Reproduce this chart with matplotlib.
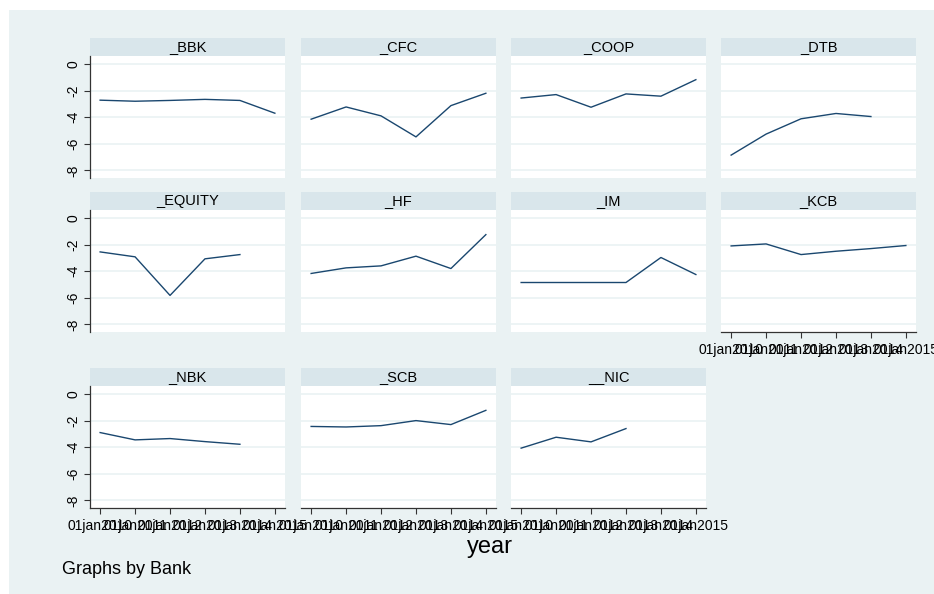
import numpy as np
import matplotlib
matplotlib.use('Agg')
import matplotlib.pyplot as plt
from matplotlib.patches import Rectangle

plt.rcParams['font.family'] = ['Liberation Sans', 'DejaVu Sans']

# Datos (nan = sin dato)
years = [2010, 2011, 2012, 2013, 2014, 2015]
nan = np.nan
banks = ['_BBK', '_CFC', '_COOP', '_DTB',
         '_EQUITY', '_HF', '_IM', '_KCB',
         '_NBK', '_SCB', '__NIC']
bbk = [-2.72, -2.80, -2.74, -2.66, -2.74, -3.70]
cfc = [-4.15, -3.23, -3.90, -5.48, -3.13, -2.20]
coop = [-2.56, -2.30, -3.25, -2.25, -2.42, -1.18]
dtb = [-6.85, -5.27, -4.12, -3.72, -3.95, nan]
equity = [-2.55, -2.92, -5.82, -3.07, -2.75, nan]
hf = [-4.17, -3.75, -3.60, -2.87, -3.80, -1.25]
im = [-4.85, -4.85, -4.85, -4.85, -2.97, -4.25]
kcb = [-2.10, -1.95, -2.75, -2.50, -2.30, -2.07]
nbk = [-2.90, -3.45, -3.35, -3.58, -3.78, nan]
scb = [-2.44, -2.48, -2.38, -2.00, -2.30, -1.23]
nic = [-4.07, -3.25, -3.60, -2.60, nan, nan]
series = [bbk, cfc, coop, dtb, equity, hf, im, kcb, nbk, scb, nic]
yticks = [0, -2, -4, -6, -8]
xticklabels = ['01jan%d' % y for y in years]

# Colores estilo Stata s2color
bg = '#EAF2F3'
strip_c = '#D9E6EB'
line_c = '#1A476F'
axis_c = '#333333'

W, H = 934, 594
fig = plt.figure(figsize=(W / 100, H / 100), dpi=100)
fig.patch.set_facecolor('white')
fig.patches.append(Rectangle((9 / W, 0), 1 - 9 / W, 1 - 10 / H,
                             transform=fig.transFigure, facecolor=bg,
                             edgecolor='none', zorder=-10))


def px_axes(x0, y0, x1, y1):
    return fig.add_axes([x0 / W, 1 - y1 / H, (x1 - x0) / W, (y1 - y0) / H])


col_x = [90, 301, 511, 721]
pw = 195
row_top = [38, 192, 368]
sh = 18
ph = 122

for i, (name, vals) in enumerate(zip(banks, series)):
    r, c = divmod(i, 4)
    x0 = col_x[c]
    y0 = row_top[r]
    # cabecera
    sax = px_axes(x0, y0, x0 + pw, y0 + sh)
    sax.set_facecolor(strip_c)
    sax.set_xticks([])
    sax.set_yticks([])
    for s in sax.spines.values():
        s.set_visible(False)
    sax.text(0.5, 0.5, name, ha='center', va='center', fontsize=10.5,
             transform=sax.transAxes)

    ax = px_axes(x0, y0 + sh, x0 + pw, y0 + sh + ph)
    ax.set_facecolor('white')
    for yt in yticks:
        ax.axhline(yt, color=bg, lw=1.2, zorder=1)
    ax.plot(years, vals, color=line_c, lw=1.0, zorder=3)
    ax.set_xlim(2009.71, 2015.29)
    ax.set_ylim(-8.57, 0.6)
    for s in ax.spines.values():
        s.set_visible(False)

    if c == 0:
        ax.spines['left'].set_visible(True)
        ax.spines['left'].set_color(axis_c)
        ax.spines['left'].set_linewidth(0.9)
        ax.set_yticks(yticks)
        ax.set_yticklabels([str(v) for v in yticks], rotation=90,
                           va='center', ha='right', fontsize=10)
        ax.tick_params(axis='y', length=4, width=0.8, color=axis_c, pad=3)
    else:
        ax.set_yticks([])

    if r == 2 or name == '_KCB':
        ax.spines['bottom'].set_visible(True)
        ax.spines['bottom'].set_color(axis_c)
        ax.spines['bottom'].set_linewidth(0.9)
        ax.set_xticks(years)
        ax.set_xticklabels(xticklabels, fontsize=10)
        ax.tick_params(axis='x', length=4, width=0.8, color=axis_c, pad=4)
    else:
        ax.set_xticks([])

fig.text(490 / W, 1 - 547 / H, 'year', ha='center', va='center', fontsize=17)
fig.text(62 / W, 1 - 570 / H, 'Graphs by Bank', ha='left', va='center',
         fontsize=13)

fig.savefig('out.png', dpi=100, facecolor=fig.get_facecolor())
